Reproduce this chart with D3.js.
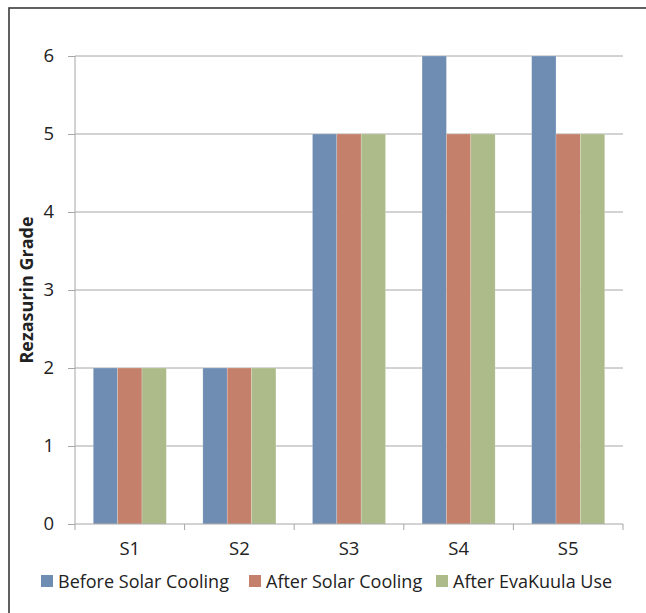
<!DOCTYPE html>
<html><head><meta charset="utf-8">
<script src="https://cdn.jsdelivr.net/npm/d3@7/dist/d3.min.js"></script>
<style>html,body{margin:0;padding:0;background:#fff;}svg{display:block;}</style>
</head><body>
<script>
const categories = ["S1","S2","S3","S4","S5"];
const seriesNames = ["Before Solar Cooling","After Solar Cooling","After EvaKuula Use"];
const beforeSolar = [2,2,5,6,6];
const afterSolar = [2,2,5,5,5];
const afterEvaKuula = [2,2,5,5,5];
const yTicks = [0,1,2,3,4,5,6];
const colors = ["#6f8cb3","#c4806a","#adba8a"];
const seriesValues = [beforeSolar, afterSolar, afterEvaKuula];

(function(){
const W = 646, H = 613;
const font = "'Open Sans', 'Noto Sans', sans-serif";
const svg = d3.select("body").append("svg").attr("width", W).attr("height", H);

// outer chart frame
svg.append("rect").attr("x", 9).attr("y", 8).attr("width", W + 10).attr("height", H + 10)
  .attr("fill", "#fff").attr("stroke", "#3a3a3a").attr("stroke-width", 1.6);

const pL = 75, pR = 623, pT = 56, pB = 524;
const x = d3.scaleBand().domain(categories).range([pL, pR]).paddingInner(0).paddingOuter(0);
const y = d3.scaleLinear().domain([0, 6]).range([pB, pT]);
const bw = x.bandwidth() / (3 + 1.5);
const gap = bw * 0.75;

// grid lines
svg.append("g").selectAll("line").data(yTicks.filter(d => d > 0)).join("line")
  .attr("x1", pL).attr("x2", pR)
  .attr("y1", d => y(d)).attr("y2", d => y(d))
  .attr("stroke", "#a6a6a6").attr("stroke-width", 1);

// bars
seriesValues.forEach((vals, si) => {
  svg.append("g").selectAll("rect").data(categories).join("rect")
    .attr("x", (c) => x(c) + gap + si * bw)
    .attr("y", (c, i) => y(vals[i]))
    .attr("width", bw)
    .attr("height", (c, i) => pB - y(vals[i]))
    .attr("fill", colors[si])
    .attr("stroke", "rgba(255,255,255,0.35)").attr("stroke-width", 0.6);
});

// y axis
const yAxis = d3.axisLeft(y).tickValues(yTicks).tickSize(7).tickPadding(14).tickFormat(d3.format("d"));
const gy = svg.append("g").attr("transform", `translate(${pL},0)`).call(yAxis);
gy.select(".domain").attr("stroke", "#a6a6a6").attr("d", `M0,${pT}V${pB}`);
gy.selectAll(".tick line").attr("stroke", "#a6a6a6");
gy.selectAll(".tick text").attr("font-family", font).attr("font-size", 18.5).attr("fill", "#222");

// x axis
const gx = svg.append("g").attr("transform", `translate(0,${pB})`)
  .call(d3.axisBottom(x).tickSize(0).tickPadding(18));
gx.select(".domain").attr("stroke", "#a6a6a6").attr("d", `M${pL},0H${pR}`);
gx.selectAll(".tick text").attr("font-family", font).attr("font-size", 18.5).attr("fill", "#222");
svg.append("g").selectAll("line").data(d3.range(categories.length + 1)).join("line")
  .attr("x1", i => pL + i * x.bandwidth()).attr("x2", i => pL + i * x.bandwidth())
  .attr("y1", pB).attr("y2", pB + 6)
  .attr("stroke", "#a6a6a6");

// y title
svg.append("text").attr("transform", `translate(33,${(pT + pB) / 2}) rotate(-90)`)
  .attr("text-anchor", "middle").attr("font-family", font).attr("font-weight", "bold")
  .attr("font-size", 18).attr("fill", "#222").text("Rezasurin Grade");

// legend
const legendX = [41, 249, 436];
const lg = svg.append("g").selectAll("g").data(seriesNames).join("g")
  .attr("transform", (d, i) => `translate(${legendX[i]},575)`);
lg.append("rect").attr("width", 12).attr("height", 12).attr("fill", (d, i) => colors[i]);
lg.append("text").attr("x", 17).attr("y", 12.5).attr("font-family", font).attr("font-size", 18)
  .attr("fill", "#222").text(d => d);
})();
</script>
</body></html>
